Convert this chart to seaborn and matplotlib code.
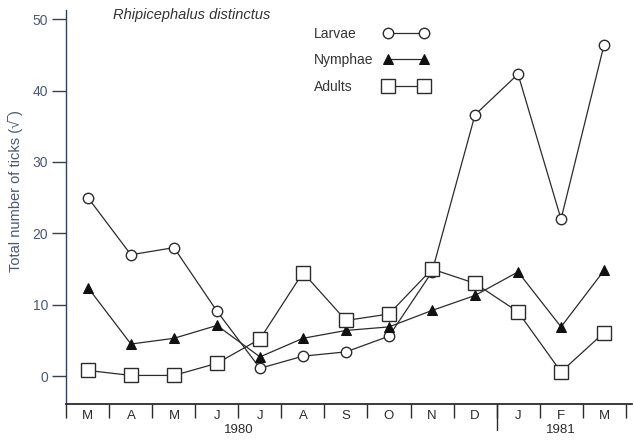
import numpy as np
import pandas as pd
import matplotlib
matplotlib.use("Agg")
import matplotlib.pyplot as plt
import matplotlib.transforms as mtransforms
import seaborn as sns

# Monthly samples, March 1980 to March 1981
months = ["M", "A", "M", "J", "J", "A", "S", "O", "N", "D", "J", "F", "M"]
years = ["1980", "1981"]
year_centres = [3.5, 11]        # month index under which each year label sits
year_break = 9.5                # boundary between December and January

larvae = [25, 17, 18, 9.1, 1.1, 2.8, 3.4, 5.6, 14.6, 36.6, 42.3, 22, 46.4]
nymphae = [12.4, 4.5, 5.3, 7.1, 2.7, 5.3, 6.4, 6.9, 9.2, 11.3, 14.6, 6.9, 14.8]
adults = [0.8, 0.1, 0.1, 1.8, 5.2, 14.5, 7.8, 8.7, 15.0, 13.0, 9.0, 0.6, 6.1]

yticks = [0, 10, 20, 30, 40, 50]

sns.set_theme(style="white")
plt.rcParams["font.family"] = ["Liberation Sans", "DejaVu Sans"]

ink = "#2b2b2b"
axis_blue = "#34405a"
label_blue = "#4a5878"

fig = plt.figure(figsize=(6.34, 4.40), dpi=100)
ax = fig.add_axes([66 / 634, 36 / 440, 566 / 634, 394 / 440])

idx = np.arange(len(months))
df = pd.DataFrame({"month": idx, "Larvae": larvae,
                   "Nymphae": nymphae, "Adults": adults})

line_kw = dict(color=ink, linewidth=0.9, ax=ax)
sns.lineplot(data=df, x="month", y="Larvae", marker="o", markersize=7.5,
             markerfacecolor="white", markeredgecolor=ink, markeredgewidth=1.0,
             label="Larvae", **line_kw)
sns.lineplot(data=df, x="month", y="Nymphae", marker="^", markersize=7.5,
             markerfacecolor="#111111", markeredgecolor="#111111",
             label="Nymphae", **line_kw)
sns.lineplot(data=df, x="month", y="Adults", marker="s", markersize=10,
             markerfacecolor="white", markeredgecolor=ink, markeredgewidth=1.0,
             label="Adults", **line_kw)

ax.set_xlim(-0.51, 12.65)
ax.set_ylim(-3.9, 51.28)

for side in ["top", "right"]:
    ax.spines[side].set_visible(False)
ax.spines["left"].set_color(axis_blue)
ax.spines["left"].set_linewidth(1.0)
ax.spines["bottom"].set_color(ink)
ax.spines["bottom"].set_linewidth(1.3)

ax.set_yticks(yticks)
ax.set_yticklabels([str(v) for v in yticks])
ax.tick_params(axis="y", left=True, direction="out", length=10, width=1.0,
               color=axis_blue, labelcolor=label_blue, labelsize=10, pad=3)

# month labels between separator ticks
ax.set_xticks(idx)
ax.set_xticklabels(months)
ax.tick_params(axis="x", which="major", bottom=True, length=0, labelsize=9.5,
               labelcolor=ink, pad=4)
ax.set_xticks(np.arange(-0.5, len(months), 1.0), minor=True)
ax.tick_params(axis="x", which="minor", bottom=True, direction="out",
               length=10, width=1.0, color=ink)

ax.set_xlabel("")
ax.set_ylabel("Total number of ticks (\u221a\u203e)", color=label_blue,
              fontsize=10.5, labelpad=0)
ax.yaxis.set_label_coords(-0.076, 0.54)

# year labels and the longer divider between the two years
trans = mtransforms.blended_transform_factory(ax.transData, ax.transAxes)
for yr, xc in zip(years, year_centres):
    ax.text(xc, -0.052, yr, transform=trans, ha="center", va="top",
            fontsize=9.5, color=ink)
ax.plot([year_break, year_break], [0, -0.066], transform=trans,
        color=ink, linewidth=1.0, clip_on=False)

fig.text(113 / 634, 1 - 15 / 440, "Rhipicephalus distinctus",
         ha="left", va="center", fontsize=10.5, style="italic",
         color="#333333")

leg = ax.legend(loc="upper left", bbox_to_anchor=(301 / 634, 1 - 14 / 440),
                bbox_transform=fig.transFigure, frameon=False,
                markerfirst=False, numpoints=2, handlelength=3.2,
                handletextpad=1.0, labelspacing=0.9, fontsize=10)
for t in leg.get_texts():
    t.set_color("#333333")
# labels flush left, sample lines flush right within each legend row
for column in leg._legend_handle_box.get_children():
    for row in column.get_children():
        row.mode = "expand"
        row.width = 115

fig.savefig("out.png", dpi=100, facecolor="white")
